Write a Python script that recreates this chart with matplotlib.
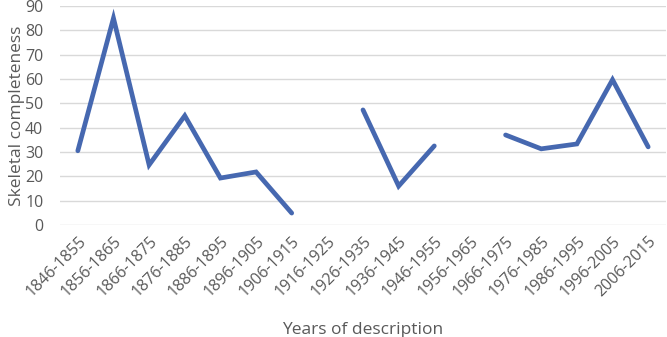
import matplotlib
matplotlib.use("Agg")
import matplotlib.pyplot as plt
import numpy as np

categories = ["1846-1855", "1856-1865", "1866-1875", "1876-1885", "1886-1895",
              "1896-1905", "1906-1915", "1916-1925", "1926-1935", "1936-1945",
              "1946-1955", "1956-1965", "1966-1975", "1976-1985", "1986-1995",
              "1996-2005", "2006-2015"]
completeness = [30.5, 85, 24.7, 44.9, 19.3, 21.8, 4.9, np.nan, 47.3, 16, 32.5,
                np.nan, 37, 31.3, 33.3, 59.7, 32.1]
yticks = [0, 10, 20, 30, 40, 50, 60, 70, 80, 90]

plt.rcParams['font.family'] = ['Open Sans', 'DejaVu Sans']
fig = plt.figure(figsize=(6.67, 3.37), dpi=100)
ax = fig.add_axes([60/667, 1-225/337, (666-60)/667, (225-6)/337])

x = np.arange(len(categories))
ax.plot(x, completeness, color="#4668B0", lw=3.4, solid_capstyle='round', solid_joinstyle='miter')
ax.set_xlim(-0.5, len(categories) - 0.5)
ax.set_ylim(0, 90)
ax.set_yticks(yticks)
ax.set_xticks(x)
ax.set_xticklabels(categories, rotation=45, ha='right', rotation_mode='anchor')
ax.grid(axis='y', color="#D9D9D9", lw=1)
ax.set_axisbelow(True)
for s in ax.spines.values():
    s.set_visible(False)
ax.tick_params(axis='both', length=0, labelsize=11.5, colors="#595959")
ax.tick_params(axis='y', pad=12)
ax.tick_params(axis='x', pad=6)
ax.set_xlabel("Years of description", fontsize=12.5, color="#595959", labelpad=16)
ax.set_ylabel("Skeletal completeness", fontsize=12.5, color="#595959", labelpad=0)
fig.savefig("out.png", dpi=100)
